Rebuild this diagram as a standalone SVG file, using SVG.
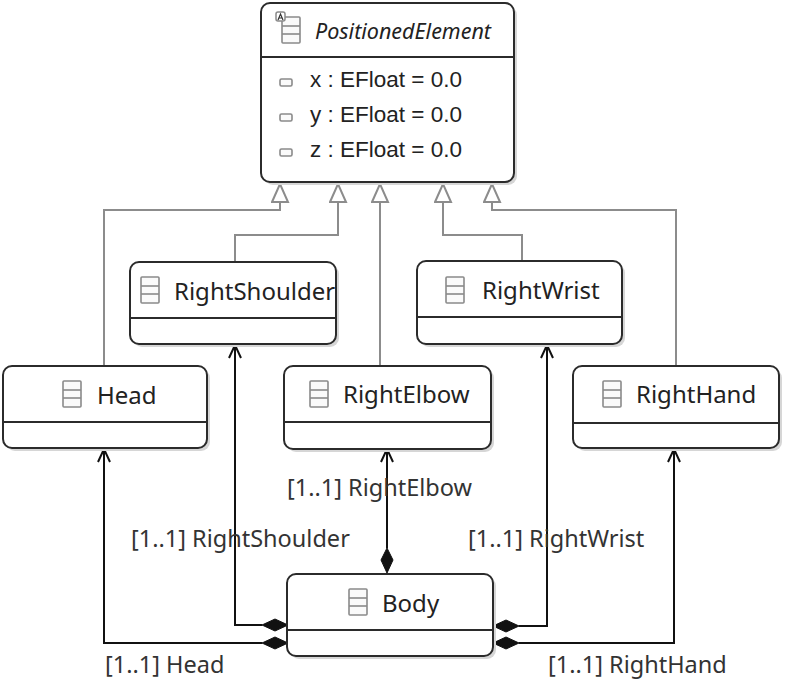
<svg xmlns="http://www.w3.org/2000/svg" width="786" height="681" viewBox="0 0 786 681">
<style>
.box{fill:#fff;stroke:#2b2b2b;stroke-width:2}
.shadow{fill:#d6d6d6;stroke:none}
.sep{stroke:#2b2b2b;stroke-width:2}
.icon{fill:#fafafa;stroke:#8a8a8a;stroke-width:1.6}
.name{font-family:"Noto Sans","DejaVu Sans",sans-serif;font-size:24px;fill:#222}
.abs{font-family:"Noto Sans","DejaVu Sans",sans-serif;font-size:21.5px;font-style:italic;fill:#222}
.attr{font-family:"Liberation Sans",Arial,sans-serif;font-size:22.5px;fill:#222}
.lbl{font-family:"Noto Sans","DejaVu Sans",sans-serif;font-size:23.5px;fill:#333}
.gen{fill:none;stroke:#8c8c8c;stroke-width:2}
.assoc{fill:none;stroke:#111;stroke-width:2}
.diamond{fill:#111;stroke:#111;stroke-width:1}
.aicon{fill:#fff;stroke:#8a8a8a;stroke-width:1.5}
</style>
<defs>
<marker id="tri" markerUnits="userSpaceOnUse" markerWidth="22" markerHeight="20" refX="19" refY="9" orient="auto">
<polygon points="1,1 19,9 1,17" fill="#fff" stroke="#8c8c8c" stroke-width="2"/>
</marker>
<marker id="open" markerUnits="userSpaceOnUse" markerWidth="16" markerHeight="16" refX="14" refY="7" orient="auto">
<path d="M1,1 L14,7 L1,13" fill="none" stroke="#111" stroke-width="2"/>
</marker>
<g id="clsicon">
<rect x="0" y="0" width="18" height="26" rx="1" class="icon"/>
<line x1="0" y1="9" x2="18" y2="9" stroke="#8a8a8a" stroke-width="1.6"/>
<line x1="0" y1="17" x2="18" y2="17" stroke="#8a8a8a" stroke-width="1.6"/>
</g>
</defs>

<g id="connectors">
<path class="gen" d="M104,366 V210 H280 V184" marker-end="url(#tri)"/>
<path class="gen" d="M235,262 V235 H338 V184" marker-end="url(#tri)"/>
<path class="gen" d="M380,366 V184" marker-end="url(#tri)"/>
<path class="gen" d="M522,261 V235 H443 V184" marker-end="url(#tri)"/>
<path class="gen" d="M676,366 V210 H492 V184" marker-end="url(#tri)"/>
<path class="assoc" d="M262,643 H104 V449" marker-end="url(#open)"/>
<path class="assoc" d="M262,625 H235 V345" marker-end="url(#open)"/>
<path class="assoc" d="M387,548 V449" marker-end="url(#open)"/>
<path class="assoc" d="M519,626 H547 V345" marker-end="url(#open)"/>
<path class="assoc" d="M519,643 H674 V449" marker-end="url(#open)"/>
<polygon class="diamond" points="262,625 275,619 288,625 275,631"/>
<polygon class="diamond" points="262,643 275,637 288,643 275,649"/>
<polygon class="diamond" points="493,626 506,620 519,626 506,632"/>
<polygon class="diamond" points="493,643 506,637 519,643 506,649"/>
<polygon class="diamond" points="387,548 381,560 387,573 393,560"/>
<text class="lbl" x="287" y="496">[1..1] RightElbow</text>
<text class="lbl" x="131" y="547">[1..1] RightShoulder</text>
<text class="lbl" x="468" y="547">[1..1] RightWrist</text>
<text class="lbl" x="105" y="673">[1..1] Head</text>
<text class="lbl" x="548" y="673">[1..1] RightHand</text>
</g>

<g id="PositionedElement">
<rect class="shadow" x="264" y="6" width="253" height="179" rx="9"/>
<rect class="box" x="261" y="3" width="253" height="179" rx="9"/>
<line class="sep" x1="262" y1="57" x2="513" y2="57"/>
<use href="#clsicon" x="282" y="17"/>
<rect class="aicon" x="276" y="12" width="9" height="9" rx="2"/>
<path d="M278,20 L280.5,14 L283,20 M279,18 H282" fill="none" stroke="#333" stroke-width="1.2"/>
<text class="abs" x="315" y="39">PositionedElement</text>
<rect class="icon" x="280" y="79" width="12" height="7" rx="1.5"/>
<text class="attr" x="310" y="87">x : EFloat = 0.0</text>
<rect class="icon" x="280" y="114" width="12" height="7" rx="1.5"/>
<text class="attr" x="310" y="122">y : EFloat = 0.0</text>
<rect class="icon" x="280" y="149" width="12" height="7" rx="1.5"/>
<text class="attr" x="310" y="157">z : EFloat = 0.0</text>
</g>

<g id="RightShoulder">
<rect class="shadow" x="133" y="265" width="206" height="82" rx="9"/>
<rect class="box" x="130" y="262" width="206" height="82" rx="9"/>
<line class="sep" x1="131" y1="318" x2="335" y2="318"/>
<use href="#clsicon" x="141" y="277"/>
<text class="name" x="174" y="300">RightShoulder</text>
</g>

<g id="RightWrist">
<rect class="shadow" x="420" y="264" width="205" height="83" rx="9"/>
<rect class="box" x="417" y="261" width="205" height="83" rx="9"/>
<line class="sep" x1="418" y1="317" x2="621" y2="317"/>
<use href="#clsicon" x="446" y="277"/>
<text class="name" x="482" y="299">RightWrist</text>
</g>

<g id="Head">
<rect class="shadow" x="6" y="369" width="204" height="82" rx="9"/>
<rect class="box" x="3" y="366" width="204" height="82" rx="9"/>
<line class="sep" x1="4" y1="422" x2="206" y2="422"/>
<use href="#clsicon" x="63" y="381"/>
<text class="name" x="97" y="404">Head</text>
</g>

<g id="RightElbow">
<rect class="shadow" x="287" y="369" width="207" height="83" rx="9"/>
<rect class="box" x="284" y="366" width="207" height="83" rx="9"/>
<line class="sep" x1="285" y1="422" x2="490" y2="422"/>
<use href="#clsicon" x="310" y="381"/>
<text class="name" x="343" y="403">RightElbow</text>
</g>

<g id="RightHand">
<rect class="shadow" x="576" y="369" width="206" height="82" rx="9"/>
<rect class="box" x="573" y="366" width="206" height="82" rx="9"/>
<line class="sep" x1="574" y1="423" x2="778" y2="423"/>
<use href="#clsicon" x="603" y="381"/>
<text class="name" x="636" y="403">RightHand</text>
</g>

<g id="Body">
<rect class="shadow" x="290" y="577" width="206" height="82" rx="9"/>
<rect class="box" x="287" y="574" width="206" height="82" rx="9"/>
<line class="sep" x1="288" y1="630" x2="492" y2="630"/>
<use href="#clsicon" x="349" y="589"/>
<text class="name" x="382" y="612">Body</text>
</g>
</svg>
